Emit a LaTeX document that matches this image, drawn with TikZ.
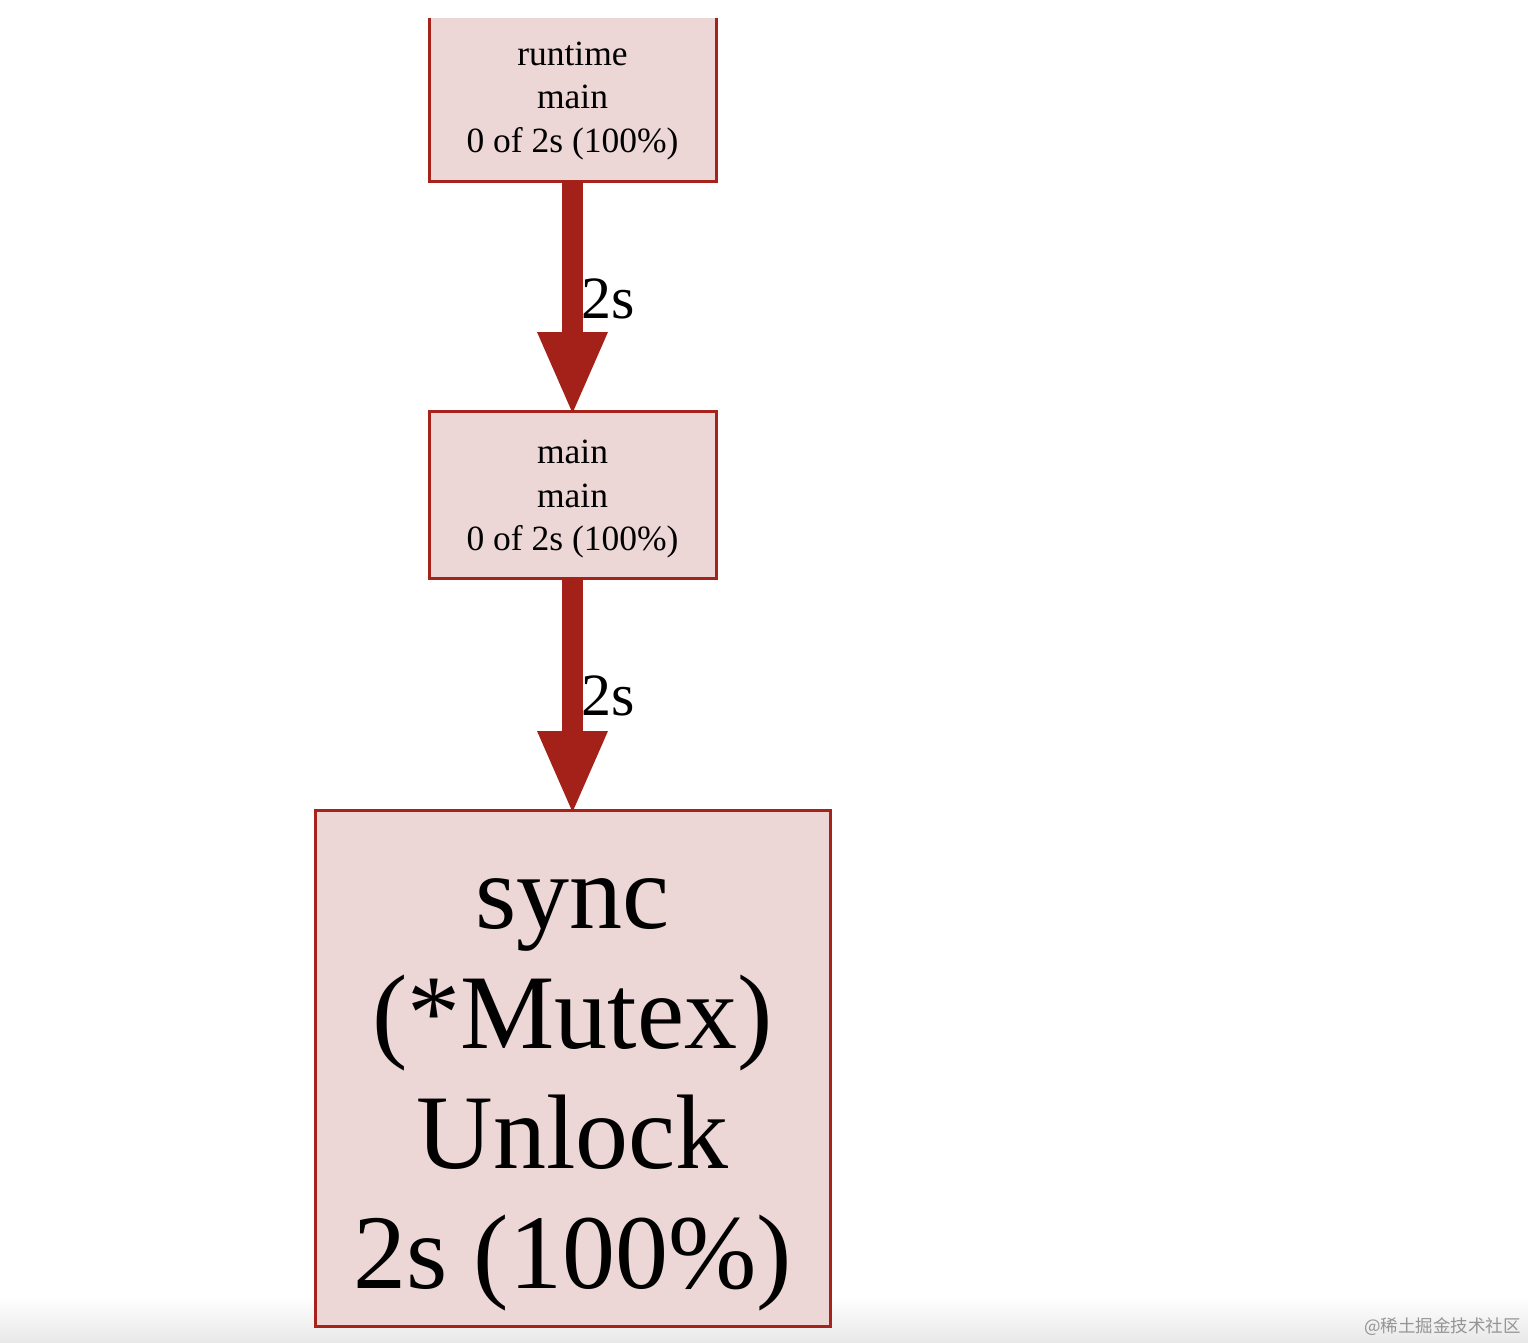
\documentclass[tikz,border=0pt]{standalone}
\usepackage{fontspec}
\setmainfont{Liberation Serif}
\newfontfamily\cjkwm{Noto Sans CJK SC}
\usetikzlibrary{arrows.meta}
\definecolor{boxred}{RGB}{166,35,27}
\definecolor{boxfill}{RGB}{236,214,214}
\definecolor{edgered}{RGB}{163,33,24}
\begin{document}
\begin{tikzpicture}[x=1pt,y=-1pt,
  fnbox/.style={fill=boxfill, draw=boxred, line width=3pt, outer sep=0pt, inner sep=0pt, rectangle},
  smalltxt/.style={anchor=base, inner sep=0pt, font=\fontsize{35.5}{43}\selectfont},
  bigtxt/.style={anchor=base, inner sep=0pt, font=\fontsize{106}{120}\selectfont},
  edgelbl/.style={anchor=base west, inner sep=0pt, font=\fontsize{60}{72}\selectfont},
  flow/.style={draw=edgered, line width=21pt,
    -{Triangle[length=81pt,width=71pt,line width=0pt]}}]
  % canvas
  \fill[white] (0,0) rectangle (1528,1342);
  \shade[top color=white, bottom color=black!9] (0,1296) rectangle (1528,1342);
  \useasboundingbox (0,0) rectangle (1528,1342);

  % boxes
  \node[fnbox, draw=none, minimum width=287pt, minimum height=163pt] (rt) at (572.5,99.5) {};
  \draw[boxred, line width=3pt] (rt.north west) -- (rt.south west) -- (rt.south east) -- (rt.north east);
  \node[fnbox, minimum width=287pt, minimum height=167pt] (mm) at (572.5,494.5) {};
  \node[fnbox, minimum width=515pt, minimum height=516pt] (su) at (572.5,1068) {};

  % box texts
  \node[smalltxt] (rt1) at (572.5,65) {runtime};
  \node[smalltxt] (rt2) at (572.5,108) {main};
  \node[smalltxt] (rt3) at (572.5,152) {0 of 2s (100\%)};
  \node[smalltxt] (mm1) at (572.5,463) {main};
  \node[smalltxt] (mm2) at (572.5,507) {main};
  \node[smalltxt] (mm3) at (572.5,550) {0 of 2s (100\%)};
  \node[bigtxt] (su1) at (572.5,928) {sync};
  \node[bigtxt] (su2) at (572.5,1048) {(*Mutex)};
  \node[bigtxt] (su3) at (572.5,1168) {Unlock};
  \node[bigtxt] (su4) at (572.5,1288) {2s (100\%)};

  % edges
  \draw[flow] (rt.south) -- ([yshift=-2pt]mm.north);
  \draw[flow] (mm.south) -- ([yshift=-2pt]su.north);
  \node[edgelbl] (e1) at (581,318) {2s};
  \node[edgelbl] (e2) at (581,715) {2s};

  % watermark
  \node[anchor=base east, inner sep=0pt, text=black!42, font=\cjkwm\fontsize{17.5}{20}\selectfont] (wm) at (1521,1332) {@稀土掘金技术社区};
\end{tikzpicture}
\end{document}
